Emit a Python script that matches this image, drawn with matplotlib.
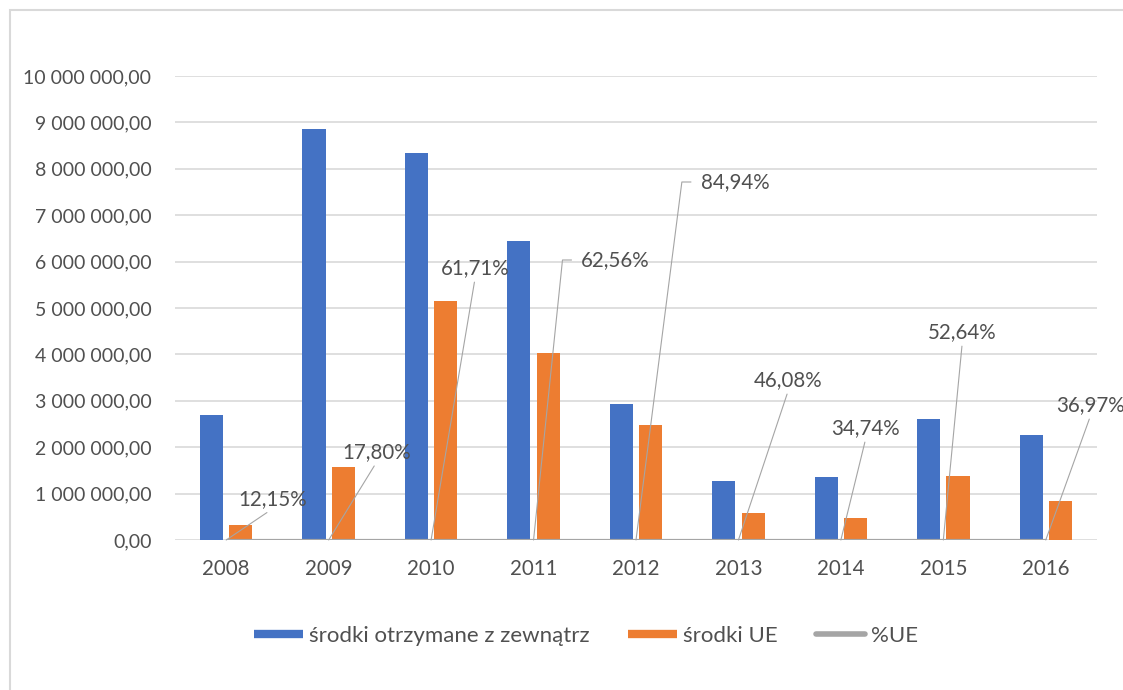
import matplotlib
matplotlib.use("Agg")
import matplotlib.pyplot as plt
from matplotlib.lines import Line2D
from matplotlib.patches import Rectangle
from matplotlib.ticker import FuncFormatter, MultipleLocator

plt.rcParams["font.family"] = ["Lato", "DejaVu Sans"]

years = ["2008", "2009", "2010", "2011", "2012", "2013", "2014", "2015", "2016"]
external_funds = [2690000, 8860000, 8340000, 6440000, 2930000, 1270000, 1360000, 2610000, 2260000]
eu_funds = [327000, 1577000, 5147000, 4029000, 2489000, 585000, 472000, 1374000, 836000]
eu_share = [0.1215, 0.1780, 0.6171, 0.6256, 0.8494, 0.4608, 0.3474, 0.5264, 0.3697]

# label offsets from the line point, in pixels (dx, dy), and leader style
label_offsets = [(46, 41), (48, 88), (44, 272), (82, 280), (99, 358),
                 (50, 160), (25, 112), (19, 208), (45, 135)]
side_labels = {3: 84.1, 4: 82.7}

BLUE = "#4472c4"
ORANGE = "#ed7d31"
GRAY = "#a5a5a5"
TEXT = "#505050"
GRID = "#d9d9d9"

W, H = 1123, 690
fig = plt.figure(figsize=(W / 100, H / 100), dpi=100)
ax = fig.add_axes([175 / W, 1 - 540 / H, (1097 - 175) / W, (540 - 76) / H])

x = list(range(len(years)))
bw = 0.225
ax.bar([i - 0.143 for i in x], external_funds, bw, color=BLUE, zorder=2)
ax.bar([i + 0.143 for i in x], eu_funds, bw, color=ORANGE, zorder=2)
ax.plot(x, eu_share, color=GRAY, lw=2.3, zorder=3, solid_capstyle="butt")

for i, (p, (dx, dy)) in enumerate(zip(eu_share, label_offsets)):
    txt = f"{p * 100:.2f}%".replace(".", ",")
    if i in side_labels:
        ax.annotate(txt, xy=(i, p), xytext=(dx, dy), textcoords="offset pixels",
                    ha="center", va="center", fontsize=14.8, color=TEXT,
                    annotation_clip=False, zorder=4,
                    arrowprops=dict(arrowstyle="-", color=GRAY, lw=0.8,
                                    shrinkA=5, shrinkB=0, relpos=(0, 0.5),
                                    connectionstyle=f"angle,angleA=0,angleB={side_labels[i]},rad=0"))
    else:
        ax.annotate(txt, xy=(i, p), xytext=(dx, dy), textcoords="offset pixels",
                    ha="center", va="center", fontsize=14.8, color=TEXT,
                    annotation_clip=False, zorder=4,
                    arrowprops=dict(arrowstyle="-", color=GRAY, lw=0.8,
                                    shrinkA=1, shrinkB=0, relpos=(0.5, 0)))

ax.set_xlim(-0.5, len(years) - 0.5)
ax.set_ylim(0, 10000000)
ax.yaxis.set_major_locator(MultipleLocator(1000000))
ax.yaxis.set_major_formatter(FuncFormatter(
    lambda v, _: f"{v:,.2f}".replace(",", " ").replace(".", ",")))
ax.set_xticks(x, years)
ax.grid(axis="y", color=GRID, lw=1.2, zorder=0)
ax.set_axisbelow(True)
for s in ax.spines.values():
    s.set_visible(False)
ax.tick_params(length=0, labelsize=14, labelcolor=TEXT)
ax.tick_params(axis="x", labelsize=14.8, pad=14)
ax.tick_params(axis="y", pad=17)

handles = [
    Line2D([], [], color=BLUE, lw=6, solid_capstyle="butt"),
    Line2D([], [], color=ORANGE, lw=6, solid_capstyle="butt"),
    Line2D([], [], color=GRAY, lw=4, solid_capstyle="round"),
]
fig.legend(handles, ["środki otrzymane z zewnątrz", "środki UE", "%UE"],
           loc="center", bbox_to_anchor=(586 / W, 1 - 636 / H), ncol=3,
           frameon=False, fontsize=16, labelcolor=TEXT,
           handlelength=2.2, handletextpad=0.3, columnspacing=1.7)

fig.patches.append(Rectangle((10 / W, -0.1), 1.2, 1.1 - 10 / H, transform=fig.transFigure,
                             fill=False, edgecolor=GRID, lw=1.5))

fig.savefig("out.png", dpi=100)
